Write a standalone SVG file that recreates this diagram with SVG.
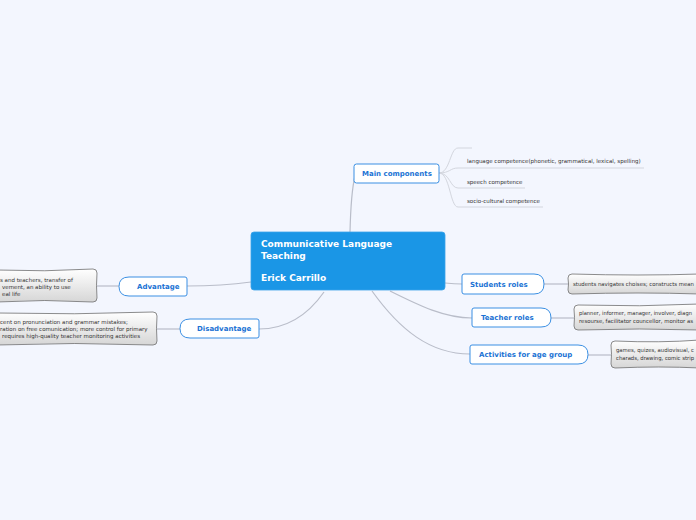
<svg xmlns="http://www.w3.org/2000/svg" width="696" height="520" viewBox="0 0 696 520">
<defs>
<linearGradient id="cg" x1="0" y1="0" x2="0" y2="1">
<stop offset="0" stop-color="#ffffff"/>
<stop offset="1" stop-color="#d6d6d6"/>
</linearGradient>
<style>
.conn{fill:none;stroke:#b9bdc9;stroke-width:1.2}
.sub{fill:none;stroke:#d3d6de;stroke-width:1}
.node{fill:#ffffff;stroke:#3a8fe3;stroke-width:1}
.nt{font-family:"DejaVu Sans",Verdana,sans-serif;font-weight:bold;font-size:7px;fill:#1a72d4}
.ct{font-family:"DejaVu Sans",Verdana,sans-serif;font-weight:bold;font-size:9px;fill:#ffffff}
.call{fill:url(#cg);stroke:#6e6e6e;stroke-width:0.8}
.st{font-family:"DejaVu Sans",Verdana,sans-serif;font-size:5.5px;fill:#333333}
</style>
</defs>
<rect width="696" height="520" fill="#f3f6fe"/>
<g id="connectors">
<path class="conn" d="M350,232 Q351,192 355,176"/>
<path class="conn" d="M251,282 Q222,286 187,286"/>
<path class="conn" d="M324,292 C310,312 290,329 259,329"/>
<path class="conn" d="M445,283 Q455,284 462,284"/>
<path class="conn" d="M390,291 C420,306 445,318 472,318"/>
<path class="conn" d="M372,291 C400,330 430,354 470,354"/>
<path class="conn" d="M544,284 L568,284"/>
<path class="conn" d="M551,318 L574,318"/>
<path class="conn" d="M588,355 L611,355"/>
<path class="conn" d="M97,286 L119,286"/>
<path class="conn" d="M157,329 L180,329"/>
<path class="sub" d="M439,173 C450,173 450,148 458,148 L472,148"/>
<path class="sub" d="M439,173 C450,173 450,168 458,168 L644,168"/>
<path class="sub" d="M439,173 C450,173 450,188 458,188 L525,188"/>
<path class="sub" d="M439,173 C450,173 450,207 458,207 L543,207"/>
</g>
<g id="center">
<rect x="251" y="232" width="194" height="58" rx="3" fill="#1a96e6" stroke="#3aa3ea" stroke-width="0.8"/>
<text class="ct" x="261" y="247">Communicative Language</text>
<text class="ct" x="261" y="259">Teaching</text>
<text class="ct" x="261" y="281">Erick Carrillo</text>
</g>
<g id="main-components">
<rect class="node" x="354" y="164" width="85" height="19" rx="2.5"/>
<text class="nt" x="362" y="176">Main components</text>
</g>
<g id="mc-items">
<text class="st" x="467" y="163">language competence(phonetic, grammatical, lexical, spelling)</text>
<text class="st" x="467" y="184">speech competence</text>
<text class="st" x="467" y="203">socio-cultural competence</text>
</g>
<g id="students-roles">
<path class="node" d="M464,274 H534 Q544,274 544,284 Q544,294 534,294 H464 Q462,294 462,292 V276 Q462,274 464,274 Z"/>
<text class="nt" x="470" y="287">Students roles</text>
</g>
<g id="students-callout">
<path class="call" d="M572,274 Q640,276 700,274 V294 Q640,292 572,294 Q568,294 568,290 Q569,284 568,278 Q568,274 572,274 Z"/>
<text class="st" x="573" y="286" textLength="121" lengthAdjust="spacingAndGlyphs">students navigates choises; constructs mean</text>
</g>
<g id="teacher-roles">
<path class="node" d="M474,308 H541 Q551,308 551,318 Q551,327 541,327 H474 Q472,327 472,325 V310 Q472,308 474,308 Z"/>
<text class="nt" x="481" y="320">Teacher roles</text>
</g>
<g id="teacher-callout">
<path class="call" d="M578,305 Q640,307 700,304 V330 Q640,328 578,330 Q574,330 574,326 Q575,317 574,309 Q574,305 578,305 Z"/>
<text class="st" x="579" y="315" textLength="113" lengthAdjust="spacingAndGlyphs">planner, informer, manager, involver, diagn</text>
<text class="st" x="579" y="323" textLength="114" lengthAdjust="spacingAndGlyphs">resourse, facilitator councellor, monitor as</text>
</g>
<g id="activities">
<path class="node" d="M472,345 H578 Q588,345 588,354.5 Q588,364 578,364 H472 Q470,364 470,362 V347 Q470,345 472,345 Z"/>
<text class="nt" x="479" y="357">Activities for age group</text>
</g>
<g id="activities-callout">
<path class="call" d="M615,341 Q660,343 700,340 V368 Q660,366 615,368 Q611,368 611,364 Q612,354 611,345 Q611,341 615,341 Z"/>
<text class="st" x="616" y="352" textLength="78" lengthAdjust="spacingAndGlyphs">games, quizes, audiovisual, c</text>
<text class="st" x="616" y="360" textLength="78" lengthAdjust="spacingAndGlyphs">charads, drawing, comic strip</text>
</g>
<g id="advantage">
<path class="node" d="M129,277 H185 Q187,277 187,279 V294 Q187,296 185,296 H129 Q119,296 119,286.5 Q119,277 129,277 Z"/>
<text class="nt" x="137" y="289">Advantage</text>
</g>
<g id="advantage-callout">
<path class="call" d="M-4,270 Q45,272 93,269 Q97,269 97,273 Q96,286 97,298 Q97,302 93,302 Q45,299 -4,302 Z"/>
<text class="st" x="0" y="282">s and teachers, transfer of</text>
<text class="st" x="2" y="289">vement, an ability to use</text>
<text class="st" x="2" y="296">eal life</text>
</g>
<g id="disadvantage">
<path class="node" d="M190,319 H257 Q259,319 259,321 V336 Q259,338 257,338 H190 Q180,338 180,328.5 Q180,319 190,319 Z"/>
<text class="nt" x="197" y="331">Disadvantage</text>
</g>
<g id="disadvantage-callout">
<path class="call" d="M-4,313 Q75,315 153,312 Q157,312 157,316 Q156,329 157,341 Q157,345 153,345 Q75,342 -4,345 Z"/>
<text class="st" x="0" y="324">cent on pronunciation and grammar mistakes;</text>
<text class="st" x="0" y="331">ration on free comunication; more control for primary</text>
<text class="st" x="2" y="338">requires high-quality teacher monitoring activities</text>
</g>
</svg>
